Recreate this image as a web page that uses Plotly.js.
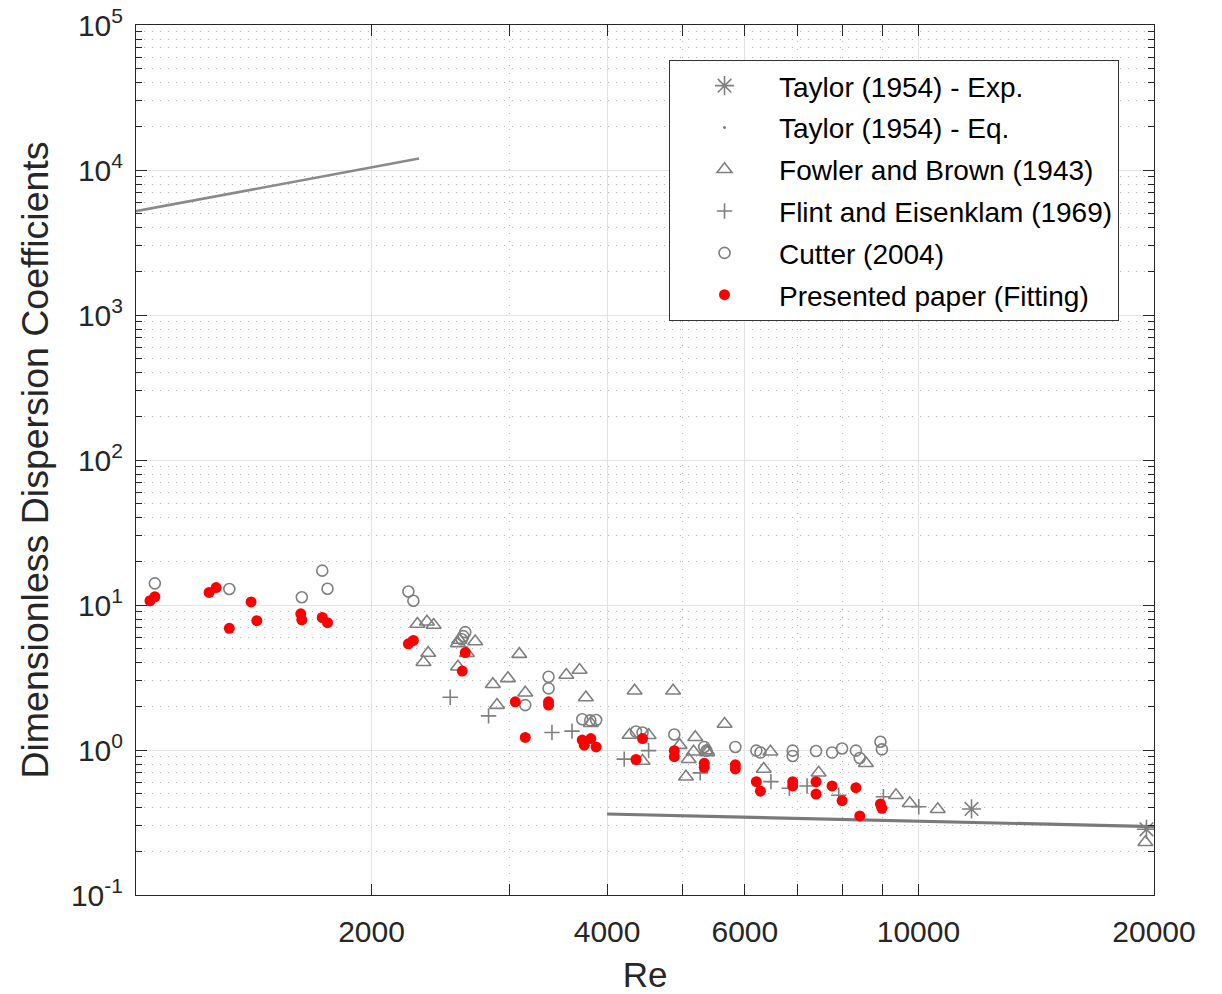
<!DOCTYPE html>
<html>
<head>
<meta charset="utf-8">
<script src="https://cdn.plot.ly/plotly-3.0.1.min.js"></script>
<style>html,body{margin:0;padding:0;background:#fff;}#chart{width:1222px;height:994px;}</style>
</head>
<body>
<div id="chart"></div>
<script>
// ---- Data ----
const taylorExpRe = [11690, 19560];
const taylorExpD  = [0.392, 0.284];

const taylorEqLamRe = [1000, 1500, 2000, 2300];
const taylorEqLamD  = [5200, 7800, 10400, 12000];
const taylorEqTurbRe = [4000, 6000, 8200, 10000, 14000, 20000];
const taylorEqTurbD  = [0.362, 0.345, 0.333, 0.324, 0.31, 0.296];

const fowlerRe = [2289, 2354, 2401, 2363, 2330, 2588, 2579, 2713, 2648, 2579,
                  3089, 2858, 2988, 2893, 3144, 3548, 3689, 3758, 3813, 4337,
                  4858, 4274, 4520, 4440, 4952, 5185, 5160, 5085, 5045, 5363,
                  5370, 5652, 6342, 6468, 7455, 8568, 9359, 9748, 10585, 19500];
const fowlerD  = [7.40, 7.67, 7.28, 4.67, 4.03, 5.74, 5.44, 5.60, 4.65, 3.75,
                  4.58, 2.84, 3.12, 2.04, 2.48, 3.29, 3.56, 2.30, 1.53, 2.56,
                  2.56, 1.27, 1.265, 0.84, 1.08, 1.225, 0.973, 0.863, 0.654, 0.99,
                  0.96, 1.51, 0.74, 0.973, 0.697, 0.81, 0.487, 0.429, 0.39, 0.231];

const flintRe = [2521, 2822, 3401, 3608, 4207, 4520, 5262, 6478, 6839, 7205, 7909, 9020, 10009];
const flintD  = [2.31, 1.72, 1.32, 1.35, 0.865, 0.99, 0.695, 0.605, 0.545, 0.565, 0.487, 0.476, 0.406];

const cutterRe = [1057, 1316, 1629, 1730, 1757, 2229, 2262, 2635, 2620, 2608,
                  3367, 3367, 3144, 3718, 3807, 3873, 4355, 4440, 4875, 5324,
                  5360, 5834, 6206, 6281, 6907, 6907, 7398, 7755, 7987, 8319,
                  8414, 8941, 8980];
const cutterD  = [14.1, 12.9, 11.3, 17.25, 12.95, 12.4, 10.7, 6.5, 6.1, 5.8,
                  3.2, 2.66, 2.04, 1.63, 1.60, 1.61, 1.34, 1.32, 1.28, 1.05,
                  0.99, 1.05, 0.99, 0.96, 0.99, 0.91, 0.985, 0.96, 1.025, 0.99,
                  0.88, 1.14, 1.01];

const paperRe = [1042, 1057, 1240, 1266, 1316, 1403, 1427, 1624, 1629, 1730,
                 1757, 2229, 2262, 2635, 2612, 3053, 3144, 3367, 3367, 3718,
                 3740, 3813, 3873, 4440, 4355, 4875, 4875, 5324, 5324, 5834,
                 5834, 6206, 6281, 6907, 6907, 7398, 7398, 7755, 7987, 8319,
                 8414, 8941, 8980];
const paperD  = [10.7, 11.4, 12.2, 13.2, 6.9, 10.5, 7.8, 8.7, 7.9, 8.2,
                 7.55, 5.4, 5.7, 4.7, 3.5, 2.15, 1.22, 2.15, 2.04, 1.17,
                 1.08, 1.20, 1.05, 1.20, 0.86, 0.99, 0.90, 0.81, 0.76, 0.79,
                 0.74, 0.605, 0.52, 0.605, 0.565, 0.605, 0.497, 0.565, 0.447, 0.55,
                 0.351, 0.424, 0.396];

const xTickVals = [2000, 4000, 6000, 10000, 20000];
const xTickText = ['2000', '4000', '6000', '10000', '20000'];
const xMinorVals = [3000, 5000, 7000, 8000, 9000];
const yTickVals = [0.1, 1, 10, 100, 1000, 10000, 100000];
const yTickText = ['10<sup>-1</sup>', '10<sup>0</sup>', '10<sup>1</sup>', '10<sup>2</sup>', '10<sup>3</sup>', '10<sup>4</sup>', '10<sup>5</sup>'];
const yMinorMult = [2, 3, 4, 5, 6, 7, 8, 9];
const yDecades = [0.1, 1, 10, 100, 1000, 10000];

const legendNames = ['Taylor (1954) - Exp.', 'Taylor (1954) - Eq.', 'Fowler and Brown (1943)',
                     'Flint and Eisenklam (1969)', 'Cutter (2004)', 'Presented paper (Fitting)'];

// ---- Build ----
const yMinorVals = [];
yDecades.forEach(d => yMinorMult.forEach(m => yMinorVals.push(+(d * m).toPrecision(3))));

const GRAY = '#7f7f7f';
const traces = [
  {x: taylorExpRe, y: taylorExpD, mode: 'markers', name: legendNames[0], legendgroup: 'g0',
   marker: {symbol: 'asterisk-open', size: 16, color: GRAY, line: {color: GRAY, width: 1.6}}},
  {x: taylorEqLamRe, y: taylorEqLamD, mode: 'lines', showlegend: false, legendgroup: 'g1',
   line: {color: '#8a8a8a', width: 2.6}},
  {x: taylorEqTurbRe, y: taylorEqTurbD, mode: 'lines', showlegend: false, legendgroup: 'g1',
   line: {color: '#7a7a7a', width: 3.2}},
  {x: [null], y: [null], mode: 'markers', name: legendNames[1], legendgroup: 'g1',
   marker: {symbol: 'circle', size: 3, color: GRAY}},
  {x: fowlerRe, y: fowlerD, mode: 'markers', name: legendNames[2], legendgroup: 'g2',
   marker: {symbol: 'triangle-up-open', size: 13, color: GRAY, line: {color: GRAY, width: 1.6}}},
  {x: flintRe, y: flintD, mode: 'markers', name: legendNames[3], legendgroup: 'g3',
   marker: {symbol: 'cross-thin-open', size: 11, color: GRAY, line: {color: GRAY, width: 1.6}}},
  {x: cutterRe, y: cutterD, mode: 'markers', name: legendNames[4], legendgroup: 'g4',
   marker: {symbol: 'circle-open', size: 11, color: GRAY, line: {color: GRAY, width: 1.6}}},
  {x: paperRe, y: paperD, mode: 'markers', name: legendNames[5], legendgroup: 'g5',
   marker: {symbol: 'circle', size: 11, color: '#ff0000', line: {width: 0}}}
];

const FONT = 'Liberation Sans, Arial, Helvetica, sans-serif';
const AX = '#262626';

const layout = {
  width: 1222, height: 994,
  margin: {l: 136, r: 68, t: 25, b: 99, pad: 0},
  paper_bgcolor: '#ffffff', plot_bgcolor: '#ffffff',
  font: {family: FONT, color: AX},
  showlegend: true,
  legend: {
    x: 0.5236, y: 0.9598, xanchor: 'left', yanchor: 'top',
    bgcolor: '#ffffff', bordercolor: '#333333', borderwidth: 1,
    font: {family: FONT, size: 28, color: '#000000'},
    traceorder: 'grouped', tracegroupgap: 2.4, itemwidth: 99
  },
  xaxis: {
    type: 'log', range: [3, Math.log10(20000)],
    tickmode: 'array', tickvals: xTickVals, ticktext: xTickText,
    tickfont: {family: FONT, size: 30, color: AX},
    ticks: 'inside', ticklen: 11, tickwidth: 1, tickcolor: AX,
    showline: true, linecolor: AX, linewidth: 1, mirror: 'allticks',
    showgrid: true, gridcolor: '#e2e2e2', gridwidth: 1,
    zeroline: false, ticklabelstandoff: 10,
    minor: {tickmode: 'array', tickvals: xMinorVals, ticks: 'inside', ticklen: 11, tickcolor: AX,
            showgrid: true, gridcolor: '#b5b5b5', griddash: '1px,7px', gridwidth: 1},
    title: {text: 'Re', font: {family: FONT, size: 35, color: AX}, standoff: 26}
  },
  yaxis: {
    type: 'log', range: [-1, 5],
    tickmode: 'array', tickvals: yTickVals, ticktext: yTickText,
    tickfont: {family: FONT, size: 30, color: AX},
    ticks: 'inside', ticklen: 11, tickwidth: 1, tickcolor: AX,
    showline: true, linecolor: AX, linewidth: 1, mirror: 'allticks',
    showgrid: true, gridcolor: '#e2e2e2', gridwidth: 1,
    zeroline: false, ticklabelstandoff: 6,
    minor: {tickmode: 'array', tickvals: yMinorVals, ticks: 'inside', ticklen: 6, tickcolor: AX,
            showgrid: true, gridcolor: '#b5b5b5', griddash: '1px,7px', gridwidth: 1},
    title: {text: 'Dimensionless Dispersion Coefficients', font: {family: FONT, size: 37.5, color: AX}, standoff: 10}
  }
};

Plotly.newPlot('chart', traces, layout, {displayModeBar: false, staticPlot: true});
</script>
</body>
</html>
